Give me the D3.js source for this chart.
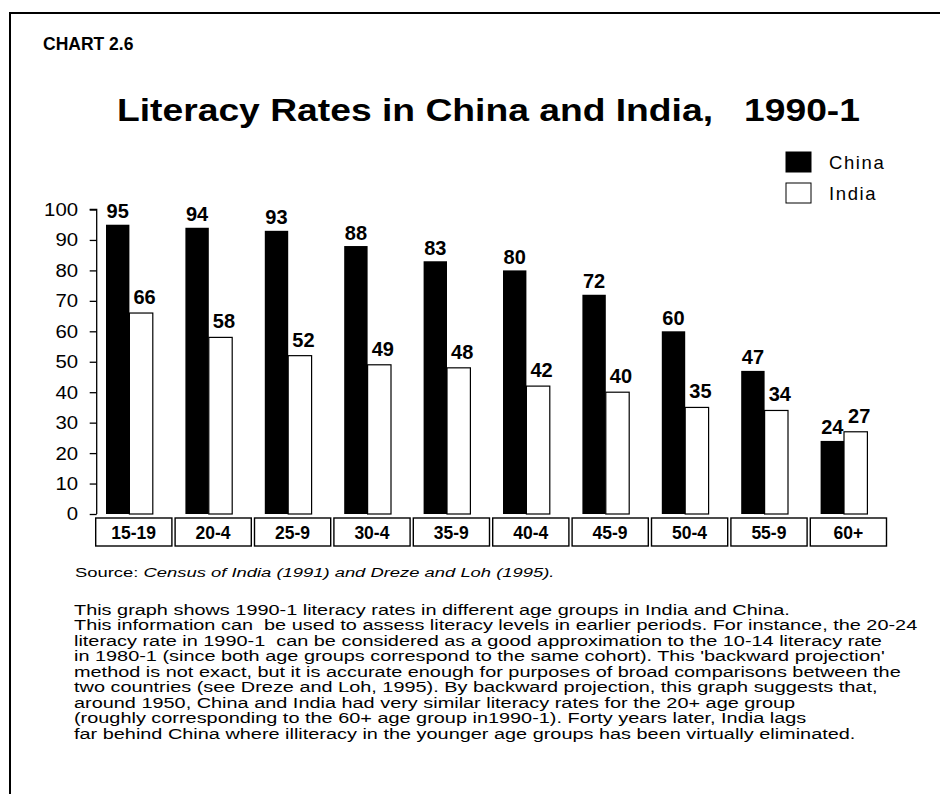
<!DOCTYPE html>
<html>
<head>
<meta charset="utf-8">
<script src="https://cdn.jsdelivr.net/npm/d3@7"></script>
<style>
  html, body { margin: 0; padding: 0; background: #fff; }
  svg { display: block; }
  text { font-family: "Liberation Sans", Arial, Helvetica, sans-serif; fill: #000; white-space: pre; }
</style>
</head>
<body>
<svg id="chart" width="940" height="794"></svg>
<script>
// ---------- data ----------
const categories = ["15-19", "20-4", "25-9", "30-4", "35-9", "40-4", "45-9", "50-4", "55-9", "60+"];
const seriesNames = ["China", "India"];
const chinaValues = [95, 94, 93, 88, 83, 80, 72, 60, 47, 24];
const indiaValues = [66, 58, 52, 49, 48, 42, 40, 35, 34, 27];
const yTickValues = [0, 10, 20, 30, 40, 50, 60, 70, 80, 90, 100];

const chartLabel = "CHART 2.6";
const titleText = "Literacy Rates in China and India,   1990-1";
const sourceLabel = "Source: ";
const sourceText = "Census of India (1991) and Dreze and Loh (1995).";
const bodyLines = [
  "This graph shows 1990-1 literacy rates in different age groups in India and China.",
  "This information can  be used to assess literacy levels in earlier periods. For instance, the 20-24",
  "literacy rate in 1990-1  can be considered as a good approximation to the 10-14 literacy rate",
  "in 1980-1 (since both age groups correspond to the same cohort). This 'backward projection'",
  "method is not exact, but it is accurate enough for purposes of broad comparisons between the",
  "two countries (see Dreze and Loh, 1995). By backward projection, this graph suggests that,",
  "around 1950, China and India had very similar literacy rates for the 20+ age group",
  "(roughly corresponding to the 60+ age group in1990-1). Forty years later, India lags",
  "far behind China where illiteracy in the younger age groups has been virtually eliminated."
];

const rows = categories.map((c, i) => ({ cat: c, China: chinaValues[i], India: indiaValues[i] }));

// ---------- layout ----------
const svg = d3.select("#chart");

// frame (top and left rule)
svg.append("line").attr("x1", 10).attr("x2", 940).attr("y1", 13).attr("y2", 13)
  .attr("stroke", "#000").attr("stroke-width", 2);
svg.append("line").attr("x1", 10).attr("x2", 10).attr("y1", 12).attr("y2", 794)
  .attr("stroke", "#000").attr("stroke-width", 2);

svg.append("text").attr("x", 43).attr("y", 50)
  .attr("font-size", 17.5).attr("font-weight", "bold").text(chartLabel);

svg.append("text").attr("x", 117).attr("y", 121)
  .attr("font-size", 31).attr("font-weight", "bold")
  .attr("textLength", 743).attr("lengthAdjust", "spacingAndGlyphs")
  .text(titleText);

// scales
const y = d3.scaleLinear().domain([0, 100]).range([514, 209.5]);
const x0 = d3.scaleBand().domain(categories).range([94.5, 888.5]).paddingInner(0).paddingOuter(0);
const x1 = d3.scaleBand().domain(seriesNames).range([11.5, 58.3]).padding(0);
const fill = d3.scaleOrdinal().domain(seriesNames).range(["#000", "#fff"]);

// y axis
const yAxis = d3.axisLeft(y).tickValues(yTickValues).tickSize(7).tickPadding(10).tickFormat(d3.format("d"));
const gy = svg.append("g").attr("transform", "translate(96.7,0)").call(yAxis);
gy.select(".domain").attr("stroke", "#000").attr("stroke-width", 1.3).attr("d", "M-7,209.5H0V514");
gy.selectAll(".tick line").attr("stroke", "#000").attr("stroke-width", 1.3);
gy.selectAll(".tick text")
  .attr("font-size", 18.5)
  .attr("font-family", "\"Liberation Sans\", Arial, sans-serif")
  .attr("fill", "#000")
  .attr("transform", "scale(1.1,1)");

// bars
const groups = svg.append("g").selectAll("g").data(rows).join("g")
  .attr("transform", d => `translate(${x0(d.cat)},0)`);

groups.selectAll("rect").data(d => seriesNames.map(k => ({ key: k, value: d[k] }))).join("rect")
  .attr("x", d => x1(d.key))
  .attr("y", d => y(d.value))
  .attr("width", x1.bandwidth())
  .attr("height", d => y(0) - y(d.value))
  .attr("fill", d => fill(d.key))
  .attr("stroke", "#000")
  .attr("stroke-width", d => d.key === "India" ? 1.2 : 0);

groups.selectAll("text.val").data(d => seriesNames.map(k => ({ key: k, value: d[k] }))).join("text")
  .attr("class", "val")
  .attr("x", d => x1(d.key) + x1.bandwidth() / 2 + (d.key === "India" ? 3.5 : 0))
  .attr("y", d => y(d.value) - (d.key === "India" ? 9 : 6.5))
  .attr("text-anchor", "middle")
  .attr("font-size", 20)
  .attr("font-weight", "bold")
  .attr("transform", d => null)
  .text(d => d.value);

// category label boxes
const xg = svg.append("g");
xg.selectAll("rect").data(categories).join("rect")
  .attr("x", d => x0(d) + 1.2)
  .attr("y", 518)
  .attr("width", x0.bandwidth() - 3.2)
  .attr("height", 28)
  .attr("fill", "#fff")
  .attr("stroke", "#000")
  .attr("stroke-width", 1.4);
xg.selectAll("text").data(categories).join("text")
  .attr("x", d => x0(d) + x0.bandwidth() / 2 - 0.5)
  .attr("y", 539)
  .attr("text-anchor", "middle")
  .attr("font-size", 17.5)
  .attr("font-weight", "bold")
  .text(d => d);

// legend
const legend = svg.append("g").selectAll("g").data(seriesNames).join("g")
  .attr("transform", (d, i) => `translate(786,${152 + i * 31})`);
legend.append("rect").attr("width", 25).attr("height", 20)
  .attr("fill", d => fill(d)).attr("stroke", "#000").attr("stroke-width", 1);
legend.append("text").attr("x", 43).attr("y", 17)
  .attr("font-size", 18.5).attr("letter-spacing", 1.6).attr("fill", "#222")
  .text(d => d);

// source
const src = svg.append("text").attr("x", 75).attr("y", 577).attr("font-size", 13.5);
src.append("tspan").text(sourceLabel);
src.append("tspan").attr("font-style", "italic").text(sourceText);
const srcW = src.node().getComputedTextLength();
src.attr("transform", `translate(75,0) scale(${480 / srcW},1) translate(-75,0)`);

// body text
const body = svg.append("g");
const bodyText = body.selectAll("text").data(bodyLines).join("text")
  .attr("x", 74)
  .attr("y", (d, i) => 615 + i * 15.5)
  .attr("font-size", 15)
  .text(d => d);
const w0 = bodyText.node().getComputedTextLength();
const sx = 716 / w0;
body.attr("transform", `translate(74,0) scale(${sx},1) translate(-74,0)`);
</script>
</body>
</html>
